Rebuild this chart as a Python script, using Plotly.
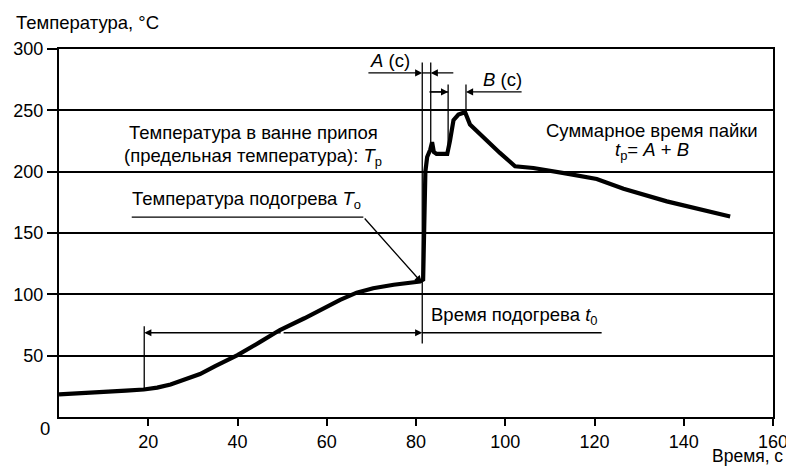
import plotly.graph_objects as go

# ---- data ----
time_s = [0, 5, 10, 15, 19, 22, 25, 28, 31.6, 35, 40, 45, 49.5, 55, 59.2, 63,
          66.7, 70.4, 75, 80.9,
          81.6, 81.9, 82.1, 82.5, 83.2, 83.6, 84.0, 84.6, 87.0, 87.6, 88.4,
          89.5, 91.0, 92.1, 95.1, 98.8, 102.2, 106.3, 113.8, 120.5, 126.5,
          136.2, 150.4]
temp_c = [18.5, 19.3, 20.5, 21.5, 22.4, 24, 26.5, 30, 35, 41.5, 50.4, 61,
          70.9, 80.5, 88.6, 95.5, 101.4, 105, 107.8, 110.4,
          112, 150, 200, 212, 218, 224, 216, 214.5, 214.5, 225,
          242, 246.5, 248.5, 238.5, 227.6, 215.3, 204.4, 203, 198.4, 194, 186,
          175.8, 163.5]

x_ticks = [20, 40, 60, 80, 100, 120, 140, 160]
y_ticks = [50, 100, 150, 200, 250, 300]

FONT = "Liberation Sans, Arial, sans-serif"
FS = 18.5
TFS = 18

fig = go.Figure()
fig.add_trace(go.Scatter(x=time_s, y=temp_c, mode="lines",
                         line=dict(color="black", width=4.2),
                         hoverinfo="skip", showlegend=False))

shapes = []
def vline(x, y0, y1, w=1.3):
    shapes.append(dict(type="line", xref="x", yref="y", x0=x, x1=x, y0=y0, y1=y1,
                       line=dict(color="black", width=w)))
def hline(y, x0, x1, w=1.3):
    shapes.append(dict(type="line", xref="x", yref="y", x0=x0, x1=x1, y0=y, y1=y,
                       line=dict(color="black", width=w)))

# dimension / leader lines
vline(19.1, 23, 74)
vline(81.4, 60, 289)
vline(83.3, 224, 289)
vline(87.2, 214, 271)
vline(91.2, 248, 271)
hline(280.5, 81.4, 83.3)
hline(265, 83.0, 87.2)
hline(68.7, 81.4, 121.6)
hline(163, 16.3, 68.2)

ann = []
def arrow(x, y, ax, ay):
    ann.append(dict(x=x, y=y, ax=ax, ay=ay, xref="x", yref="y", axref="x", ayref="y",
                    text="", showarrow=True, arrowhead=2, arrowsize=1.1,
                    arrowwidth=1.3, arrowcolor="black", standoff=0, startstandoff=0))
arrow(81.4, 280.5, 69.0, 280.5)
arrow(83.3, 280.5, 88.7, 280.5)
arrow(87.2, 265, 83.0, 265)
arrow(91.2, 265, 104.0, 265)
arrow(19.1, 68.7, 50, 68.7)
arrow(81.4, 68.7, 50, 68.7)
arrow(81.3, 109.5, 68.2, 163)

def text(x, y, s, xanchor="center", yanchor="middle", ref="x", size=FS):
    ann.append(dict(x=x, y=y, xref=ref, yref=("y" if ref == "x" else "paper"),
                    text=s, showarrow=False, xanchor=xanchor, yanchor=yanchor,
                    font=dict(family=FONT, size=size, color="black")))

text(43.5, 231.6, "Температура в ванне припоя")
text(43.5, 212.0, "(предельная температура): <i>T</i><sub>p</sub>")
text(16.0, 176.5, "Температура подогрева <i>T</i><sub>o</sub>", xanchor="left")
text(83.0, 82.5, "Время подогрева <i>t</i><sub>0</sub>", xanchor="left")
text(74.2, 290.3, "<i>A</i> (с)")
text(99.4, 275.2, "<i>B</i> (с)")
text(132.8, 233.5, "Суммарное время пайки")
text(132.8, 216.5, "<i>t</i><sub>p</sub>= <i>A</i> + <i>B</i>")
text(-0.063, 1.073, "Температура, °С", xanchor="left", ref="paper")
text(1.0168, -0.106, "Время, с", xanchor="right", ref="paper", size=17.5)
text(-0.0196, -0.030, "0", ref="paper")

# page has an 8 px body margin: figure is sized/offset to compensate
fig.update_layout(
    width=786, height=461,
    margin=dict(l=51, r=21, t=41, b=52),
    plot_bgcolor="white", paper_bgcolor="white",
    shapes=shapes, annotations=ann,
    font=dict(family=FONT, size=TFS, color="black"),
    xaxis=dict(range=[0, 160], tickvals=x_ticks, ticks="outside", ticklen=7,
               tickwidth=1.5, tickcolor="black", showline=True, linecolor="black",
               linewidth=2, mirror=True, showgrid=False, zeroline=False,
               automargin=False,
               tickfont=dict(family=FONT, size=TFS, color="black")),
    yaxis=dict(range=[0, 300], tickvals=y_ticks, ticks="outside", ticklen=10,
               tickwidth=1.5, tickcolor="black", showline=True, linecolor="black",
               linewidth=2, mirror=True, showgrid=True, gridcolor="black",
               gridwidth=1.5, zeroline=False, automargin=False,
               tickfont=dict(family=FONT, size=TFS, color="black")),
)

fig.write_html("out.html")
